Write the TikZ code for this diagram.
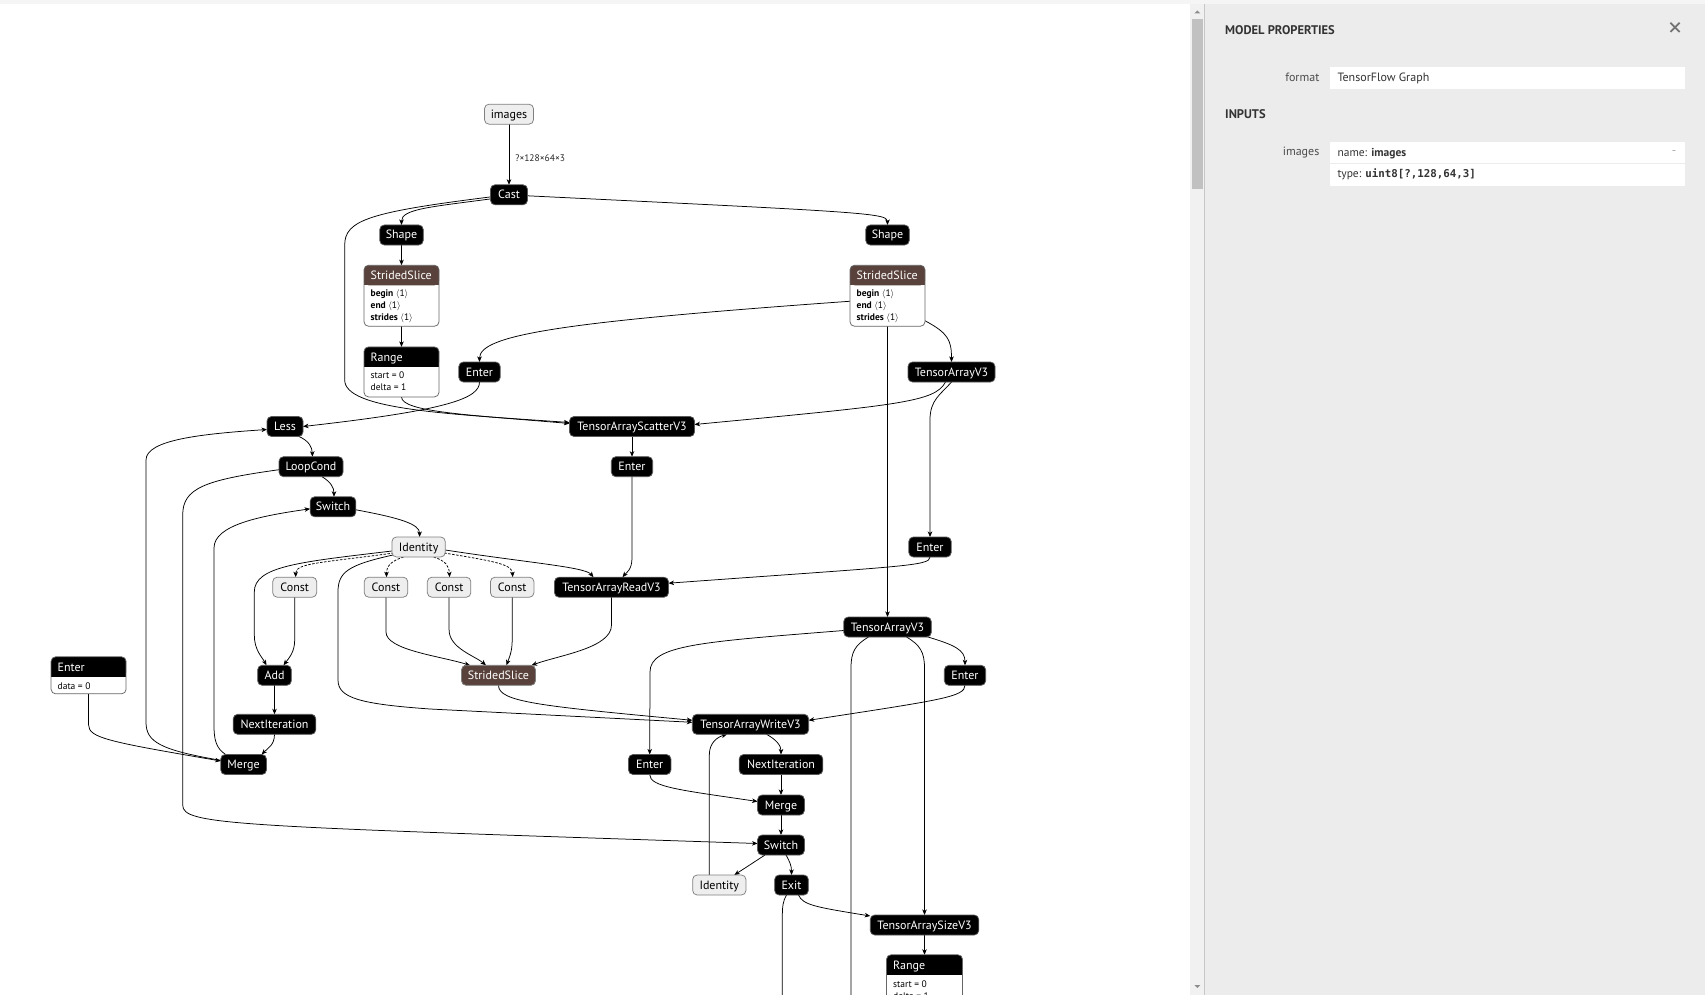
\documentclass[tikz,border=0pt]{standalone}
\usepackage{fontspec}
\setmainfont{PT Sans}
\newfontfamily\monof{DejaVu Sans Mono}
\usetikzlibrary{arrows.meta,calc}
\definecolor{tensorbrown}{RGB}{89,66,59}
\definecolor{litefill}{RGB}{238,238,238}
\definecolor{panelgray}{RGB}{236,236,236}
\definecolor{stripgray}{RGB}{245,245,245}
\definecolor{trackgray}{RGB}{241,241,241}
\definecolor{thumbgray}{RGB}{193,193,193}
\pgfdeclarelayer{back}
\pgfdeclarelayer{wires}
\pgfsetlayers{back,wires,main}
\tikzset{
  opbox/.style={rectangle, rounded corners=4.5pt, minimum height=20pt, inner xsep=0pt,
    inner ysep=0pt, outer sep=0pt, text height=8.5pt, text depth=0.5pt, line width=0.75pt,
    font=\fontsize{12}{14}\selectfont},
  blk/.style={opbox, fill=black, draw=black!65, text=white},
  lite/.style={opbox, fill=litefill, draw=black!50, text=black},
  tens/.style={opbox, fill=tensorbrown, draw=black!50, text=white},
  abox/.style={rectangle, rounded corners=4.5pt, outer sep=0pt, inner sep=0pt, fill=white},
  boxline/.style={draw=black!60, line width=0.75pt},
  htitle/.style={anchor=base west, inner sep=0pt, text=white, font=\fontsize{12}{14}\selectfont},
  attr/.style={anchor=base west, inner sep=0pt, text=black, font=\fontsize{9.5}{11}\selectfont},
  edge/.style={draw=black, line width=0.75pt, -{Stealth[length=5.5pt,width=4.5pt,inset=1.5pt]}},
  wire/.style={draw=black, line width=0.75pt},
  ctrl/.style={edge, dash pattern=on 2.5pt off 1.5pt},
  side/.style={inner sep=0pt, text=black!80, font=\fontsize{12}{14}\selectfont},
  sidehead/.style={inner sep=0pt, anchor=west, text=black!80, font=\bfseries\fontsize{12.5}{14}\selectfont},
}
\begin{document}
\begin{tikzpicture}[x=1pt,y=-1pt]
\useasboundingbox (0,0) rectangle (1705,995);

% ---------- operator nodes ----------
\node[lite, minimum width=49pt] (images) at (509,114.2) {images};
\node[blk, minimum width=37pt] (cast) at (509,194.8) {Cast};
\node[blk, minimum width=43.5pt] (shapeL) at (401.5,235) {Shape};
\node[blk, minimum width=43.5pt] (shapeR) at (887.5,235) {Shape};
\node[blk, minimum width=41.3pt] (enterA) at (479.5,372) {Enter};
\node[blk, minimum width=87pt] (tavA) at (951.5,372) {TensorArrayV3};
\node[blk, minimum width=36pt] (less) at (285,426.5) {Less};
\node[blk, minimum width=125pt] (scatter) at (632,426.5) {TensorArrayScatterV3};
\node[blk, minimum width=64pt] (loopcond) at (311,466.7) {LoopCond};
\node[blk, minimum width=41.3pt] (enterB) at (632,466.7) {Enter};
\node[blk, minimum width=45.7pt] (switchL) at (333,506.8) {Switch};
\node[lite, minimum width=53.3pt] (identA) at (418.6,547) {Identity};
\node[blk, minimum width=42.4pt] (enterC) at (930,547) {Enter};
\node[lite, minimum width=44pt] (c1) at (294.7,587.2) {Const};
\node[lite, minimum width=43.5pt] (c2) at (386,587.2) {Const};
\node[lite, minimum width=43.5pt] (c3) at (449.1,587.2) {Const};
\node[lite, minimum width=43.5pt] (c4) at (512.2,587.2) {Const};
\node[blk, minimum width=114pt] (read) at (611.5,587.2) {TensorArrayReadV3};
\node[blk, minimum width=87.5pt] (tavB) at (887.5,627) {TensorArrayV3};
\node[blk, minimum width=33.7pt] (add) at (274.5,675.3) {Add};
\node[tens, minimum width=74pt] (ssM) at (498.5,675.3) {StridedSlice};
\node[blk, minimum width=41.3pt] (enterE) at (965,675.3) {Enter};
\node[blk, minimum width=82.6pt] (nextL) at (274.5,724.3) {NextIteration};
\node[blk, minimum width=116.3pt] (write) at (750.5,724.3) {TensorArrayWriteV3};
\node[blk, minimum width=45.7pt] (mergeL) at (243.6,764.5) {Merge};
\node[blk, minimum width=42.4pt] (enterF) at (649.7,764.5) {Enter};
\node[blk, minimum width=83.7pt] (nextR) at (781,764.5) {NextIteration};
\node[blk, minimum width=46.8pt] (mergeR) at (781,805) {Merge};
\node[blk, minimum width=46.8pt] (switchR) at (781,845) {Switch};
\node[lite, minimum width=53.3pt] (identB) at (719.3,885) {Identity};
\node[blk, minimum width=33.7pt] (exitN) at (791.5,885) {Exit};
\node[blk, minimum width=108.5pt] (tasize) at (924.5,925) {TensorArraySizeV3};

% ---------- nodes with attribute lists ----------
% StridedSlice (left)
\node[abox, minimum width=75pt, minimum height=61pt] (ssL) at (401.5,295.75) {};
\fill[tensorbrown, rounded corners=4.5pt] (ssL.north west) rectangle ($(ssL.north east)+(0,20)$);
\fill[tensorbrown] ($(ssL.north west)+(0,10)$) rectangle ($(ssL.north east)+(0,20)$);
\draw[boxline, rounded corners=4.5pt] (ssL.north west) rectangle (ssL.south east);
\node[htitle] (ssLt) at (370.5,279.5) {StridedSlice};
\node[attr] (ssLa) at (370.5,296.8) {\textbf{begin} $\langle$1$\rangle$};
\node[attr] (ssLb) at (370.5,308.8) {\textbf{end} $\langle$1$\rangle$};
\node[attr] (ssLc) at (370.5,320.7) {\textbf{strides} $\langle$1$\rangle$};

% StridedSlice (right)
\node[abox, minimum width=75pt, minimum height=61pt] (ssR) at (887.5,295.75) {};
\fill[tensorbrown, rounded corners=4.5pt] (ssR.north west) rectangle ($(ssR.north east)+(0,20)$);
\fill[tensorbrown] ($(ssR.north west)+(0,10)$) rectangle ($(ssR.north east)+(0,20)$);
\draw[boxline, rounded corners=4.5pt] (ssR.north west) rectangle (ssR.south east);
\node[htitle] (ssRt) at (856.5,279.5) {StridedSlice};
\node[attr] (ssRa) at (856.5,296.8) {\textbf{begin} $\langle$1$\rangle$};
\node[attr] (ssRb) at (856.5,308.8) {\textbf{end} $\langle$1$\rangle$};
\node[attr] (ssRc) at (856.5,320.7) {\textbf{strides} $\langle$1$\rangle$};

% Range (upper)
\node[abox, minimum width=75pt, minimum height=50pt] (rangeL) at (401.5,371.9) {};
\fill[black, rounded corners=4.5pt] (rangeL.north west) rectangle ($(rangeL.north east)+(0,20)$);
\fill[black] ($(rangeL.north west)+(0,10)$) rectangle ($(rangeL.north east)+(0,20)$);
\draw[boxline, rounded corners=4.5pt] (rangeL.north west) rectangle (rangeL.south east);
\node[htitle] (rangeLt) at (370.5,361) {Range};
\node[attr] (rangeLa) at (370.5,378.4) {start = 0};
\node[attr] (rangeLb) at (370.5,390.3) {delta = 1};

% Enter with data
\node[abox, minimum width=75pt, minimum height=37pt] (enterD) at (88.6,675.3) {};
\fill[black, rounded corners=4.5pt] (enterD.north west) rectangle ($(enterD.north east)+(0,20)$);
\fill[black] ($(enterD.north west)+(0,10)$) rectangle ($(enterD.north east)+(0,20)$);
\draw[boxline, rounded corners=4.5pt] (enterD.north west) rectangle (enterD.south east);
\node[htitle] (enterDt) at (57.5,671) {Enter};
\node[attr] (enterDa) at (57.5,689.2) {data = 0};

% Range (lower)
\node[abox, minimum width=76pt, minimum height=50pt] (rangeR) at (924.5,979.8) {};
\fill[black, rounded corners=4.5pt] (rangeR.north west) rectangle ($(rangeR.north east)+(0,20)$);
\fill[black] ($(rangeR.north west)+(0,10)$) rectangle ($(rangeR.north east)+(0,20)$);
\draw[boxline, rounded corners=4.5pt] (rangeR.north west) rectangle (rangeR.south east);
\node[htitle] (rangeRt) at (893,969) {Range};
\node[attr] (rangeRa) at (893,987.2) {start = 0};
\node[attr] (rangeRb) at (893,999.2) {delta = 1};

% ---------- connectors ----------
\begin{pgfonlayer}{wires}
\draw[edge] (images.south) -- node[pos=0.56, anchor=west, xshift=6pt, inner sep=0pt, text=black!85,
  font=\fontsize{9.5}{11}\selectfont] (shapelbl) {?×128×64×3} (cast.north);
\draw[edge] ($(cast)+(-17.5,4)$) .. controls (430,207) and (401.5,209) .. (shapeL.north);
\draw[edge] ($(cast.east)+(0,1)$) .. controls (860,212) and (887.5,213) .. (shapeR.north);
\draw[edge] ($(cast)+(-17.5,2)$) .. controls (370,212) and (344.7,220) .. (344.7,245)
  -- (344.7,380) .. controls (344.7,410) and (450,414) .. ($(scatter.west)+(0,-4)$);
\draw[edge] (shapeL.south) -- (ssL.north);
\draw[edge] (ssL.south) -- (rangeL.north);
\draw[edge] (rangeL.south) .. controls (401.5,412) and (470,415) .. ($(scatter.west)+(0,-3)$);
\draw[edge] ($(ssR.west)+(0,5.5)$) .. controls (560,322) and (479.5,335) .. (enterA.north);
\draw[edge] ($(ssR.east)+(0,25)$) .. controls (948,333) and (951.5,340) .. (tavA.north);
\draw[edge] (ssR.south) -- (tavB.north);
\draw[edge] (enterA.south) .. controls (479.5,398) and (450,410) .. (less.east);
\draw[edge] ($(tavA)+(-6,10)$) .. controls (935,402) and (900,405) .. ($(scatter.east)+(0,-2)$);
\draw[edge] ($(tavA)+(0,10)$) .. controls (940,395) and (930,400) .. (930,420) -- (enterC.north);
\draw[edge] (scatter.south) -- (enterB.north);
\draw[edge] (enterB.south) -- (632,558) .. controls (632,570) and (626,573) .. ($(read.north)+(11,0)$);
\draw[edge] (enterC.south) .. controls (930,566) and (905,566) .. ($(read.east)+(0,-4)$);
\draw[edge] ($(less)+(14,10)$) .. controls (309,441) and (312,447) .. ($(loopcond.north)+(1.5,0)$);
\draw[edge] ($(loopcond)+(11,10)$) .. controls (331,482) and (334,488) .. ($(switchL.north)+(1,0)$);
\draw[edge] ($(loopcond.west)+(0,3)$) .. controls (205,480) and (182.7,488) .. (182.7,515)
  -- (182.7,805) .. controls (182.7,825) and (230,826) .. ($(switchR.west)+(0,-1.5)$);
\draw[edge] ($(switchL.east)+(0,3)$) .. controls (400,518) and (419.6,524) .. ($(identA.north)+(1,0)$);
\draw[edge] ($(mergeL.west)+(1,-4)$) .. controls (160,750) and (146,742) .. (146,722)
  -- (146,460) .. controls (146,440) and (200,434) .. ($(less.west)+(0,3)$);
\draw[edge] ($(mergeL)+(-18,-10)$) .. controls (216,748) and (214,740) .. (214,725)
  -- (214,548) .. controls (214,525) and (260,516) .. ($(switchL.west)+(0,2)$);
\draw[edge] ($(identA.west)+(0,4)$) .. controls (300,562) and (254.3,566) .. (254.3,592)
  -- (254.3,635) .. controls (254.3,650) and (262,657) .. ($(add)+(-8,-10)$);
\draw[ctrl] ($(identA.west)+(2,6)$) .. controls (320,563) and (295.5,563) .. ($(c1.north)+(1,0)$);
\draw[ctrl] ($(identA)+(-15,10)$) .. controls (391,561) and (386.5,566) .. ($(c2.north)+(0.5,0)$);
\draw[ctrl] ($(identA)+(15,10)$) .. controls (446,561) and (449,566) .. ($(c3.north)+(0.5,0)$);
\draw[ctrl] ($(identA.east)+(-1,6)$) .. controls (500,562) and (512,565) .. ($(c4.north)+(0.5,0)$);
\draw[edge] ($(identA.east)+(0,3)$) .. controls (530,563) and (585,567) .. ($(read.north)+(-18,0)$);
\draw[edge] ($(identA.west)+(1,8)$) .. controls (348,565) and (338,572) .. (338,592)
  -- (338,680) .. controls (338,698) and (360,704) .. (430,709) -- ($(write.west)+(0,-2)$);
\draw[edge] (c1.south) -- (294.7,640) .. controls (294.7,652) and (289,658) .. ($(add)+(9,-10)$);
\draw[edge] (c2.south) -- (386,632) .. controls (386,650) and (440,656) .. ($(ssM.north)+(-28.5,0)$);
\draw[edge] (c3.south) -- (449.1,630) .. controls (449.1,648) and (475,656) .. ($(ssM.north)+(-12.5,0)$);
\draw[edge] (c4.south) -- (512.2,640) .. controls (512.2,652) and (509,658) .. ($(ssM.north)+(8,0)$);
\draw[edge] (read.south) -- (611.5,625) .. controls (611.5,648) and (560,655) .. ($(ssM.north)+(33,0)$);
\draw[edge] (add.south) -- (nextL.north);
\draw[edge] (nextL.south) .. controls (274.5,745) and (268,748) .. ($(mergeL.north)+(18,0)$);
\draw[edge] (enterD.south) -- (88.6,725) .. controls (88.6,738) and (110,742) .. ($(mergeL.west)+(0,-3.5)$);
\draw[edge] (ssM.south) .. controls (498.5,702) and (540,706) .. ($(write.west)+(0,-4)$);
\draw[edge] ($(tavB.west)+(0,3.5)$) .. controls (700,642) and (650,645) .. (650,672) -- (enterF.north);
\draw[edge] ($(tavB.east)+(-5,9.5)$) .. controls (955,645) and (965,650) .. (enterE.north);
\draw[wire] ($(tavB)+(-19,10)$) .. controls (855,645) and (851,652) .. (851,668) -- (851,1010);
\draw[edge] ($(tavB)+(19,10)$) .. controls (920,645) and (924.5,652) .. (924.5,668) -- (tasize.north);
\draw[edge] (enterE.south) .. controls (965,697) and (940,700) .. ($(write.east)+(0,-4)$);
\draw[edge] ($(write)+(16,10)$) .. controls (777,740) and (781,746) .. (nextR.north);
\draw[edge] ($(identB.north)+(-10,0)$) -- (709.3,755) .. controls (709.3,742) and (718,737) .. ($(write.south)+(-23.5,0)$);
\draw[edge] (enterF.south) .. controls (649.7,787) and (680,790) .. ($(mergeR.west)+(0,-3.5)$);
\draw[edge] (nextR.south) -- (mergeR.north);
\draw[edge] (mergeR.south) -- (switchR.north);
\draw[edge] ($(switchR)+(-16,10)$) -- ($(identB.north)+(15,0)$);
\draw[edge] ($(switchR)+(5,10)$) .. controls (790,862) and (791.5,866) .. (exitN.north);
\draw[edge] ($(exitN)+(7,10)$) .. controls (803,905) and (815,907) .. ($(tasize.west)+(0,-9)$);
\draw[wire] ($(exitN)+(-5,10)$) .. controls (783,901) and (782.3,906) .. (782.3,918) -- (782.3,1010);
\draw[edge] (tasize.south) -- (rangeR.north);
\end{pgfonlayer}

% ---------- page background and properties panel ----------
\begin{pgfonlayer}{back}
\fill[white] (0,0) rectangle (1705,995);
\fill[stripgray] (0,0) rectangle (1705,3.7);
\fill[trackgray] (1190,3.7) rectangle (1204,995);
\fill[thumbgray] (1192,19) rectangle (1203,189);
\fill[black!45] (1194.3,13.5) -- (1200.3,13.5) -- (1197.3,10.5) -- cycle;
\fill[black!45] (1194.3,985) -- (1200.3,985) -- (1197.3,988) -- cycle;
\fill[panelgray] (1204,3.7) rectangle (1705,995);
\draw[black!22, line width=1pt] (1204,3.7) -- (1204,995);
\fill[white] (1330,66.7) rectangle (1685,88.7);
\fill[white] (1330,142.3) rectangle (1685,185.7);
\draw[panelgray, line width=1pt] (1330,163.5) -- (1685,163.5);
\end{pgfonlayer}

\node[sidehead] (mphead) at (1225,30.5) {MODEL PROPERTIES};
\coordinate (closeC) at (1675,27.3);
\draw[black!55, line width=1.8pt] ($(closeC)+(-4.6,-4.6)$) -- ($(closeC)+(4.6,4.6)$);
\draw[black!55, line width=1.8pt] ($(closeC)+(-4.6,4.6)$) -- ($(closeC)+(4.6,-4.6)$);
\node[side, anchor=east, text=black!70] (fmtkey) at (1319.5,77.5) {format};
\node[side, anchor=west] (fmtval) at (1337.3,78) {TensorFlow Graph};
\node[sidehead] (inhead) at (1225,114.5) {INPUTS};
\node[side, anchor=east, text=black!70] (inkey) at (1319.5,152.5) {images};
\node[side, anchor=west, font=\fontsize{11.5}{13}\selectfont] (inname) at (1337.3,153.5) {name: \textbf{images}};
\node[side, text=black!35] (indash) at (1674,153) {-};
\node[side, anchor=west, font=\fontsize{11.5}{13}\selectfont] (intype) at (1337.3,174.5)
  {type: {\monof\bfseries\fontsize{10.8}{13}\selectfont uint8[?,128,64,3]}};
\end{tikzpicture}
\end{document}
